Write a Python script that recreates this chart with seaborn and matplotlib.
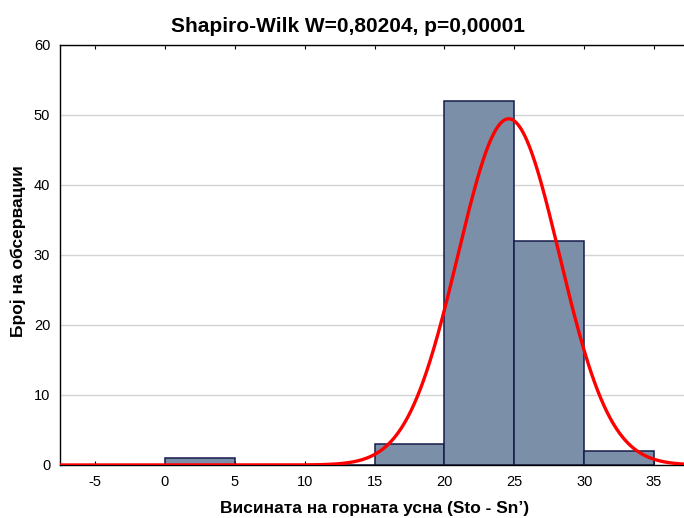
import numpy as np
import pandas as pd
import matplotlib
matplotlib.use("Agg")
import matplotlib.pyplot as plt
import seaborn as sns

# Histogram counts per 5-unit class (left edges)
bin_starts = [0, 5, 10, 15, 20, 25, 30]
counts = [1, 0, 0, 3, 52, 32, 2]
bin_width = 5

# Fitted normal curve parameters
fit_mean = 24.6
fit_sd = 3.63

x_ticks = [-5, 0, 5, 10, 15, 20, 25, 30, 35]
y_ticks = [0, 10, 20, 30, 40, 50, 60]

title = "Shapiro-Wilk W=0,80204, p=0,00001"
x_label = "Висината на горната усна (Sto - Sn’)"
y_label = "Број на обсервации"

sns.set_theme(style="white")
plt.rcParams["font.family"] = ["Liberation Sans", "DejaVu Sans"]

fig = plt.figure(figsize=(6.84, 5.18), dpi=100)
W, H = 684, 518
x0, x1 = -7.5, 37.5
left_px, right_px, top_px, bot_px = 60, 689, 45, 465
ax = fig.add_axes([left_px / W, 1 - bot_px / H, (right_px - left_px) / W,
                   (bot_px - top_px) / H])

df = pd.DataFrame({"mid": [b + bin_width / 2 for b in bin_starts], "n": counts})
edges = bin_starts + [bin_starts[-1] + bin_width]
sns.histplot(data=df, x="mid", weights="n", bins=edges, ax=ax,
             color="#7b8fa9", alpha=1.0, edgecolor="#151b4a", linewidth=1.1,
             zorder=2)

# Normal curve scaled to counts
n_total = sum(counts)
xs = np.linspace(x0, x1, 600)
ys = n_total * bin_width / (fit_sd * np.sqrt(2 * np.pi)) * np.exp(-0.5 * ((xs - fit_mean) / fit_sd) ** 2)
sns.lineplot(x=xs, y=ys, ax=ax, color="#ff0000", linewidth=2.4, zorder=3)

ax.set_xlim(x0, x1)
ax.set_ylim(0, 60)
ax.set_xticks(x_ticks)
ax.set_xticklabels([str(t) for t in x_ticks])
ax.set_yticks(y_ticks)
ax.set_yticklabels([str(t) for t in y_ticks])
ax.tick_params(axis="both", labelsize=10.5, colors="#000000", length=3,
               direction="in", width=0.8, pad=7)
ax.tick_params(axis="x", top=True, bottom=True)
ax.tick_params(axis="y", left=False)
ax.yaxis.grid(True, color="#d3d3d3", linewidth=1.0, zorder=0)
ax.xaxis.grid(False)
ax.set_axisbelow(True)
for s in ["left", "bottom", "top"]:
    ax.spines[s].set_visible(True)
    ax.spines[s].set_color("#000000")
    ax.spines[s].set_linewidth(1.0)
ax.spines["right"].set_visible(False)
ax.set_xlabel("")
ax.set_ylabel("")

fig.text(348 / W, 1 - 32 / H, title, ha="center", va="baseline",
         fontsize=15, fontweight="bold", color="#000000")
fig.text(375 / W, 1 - 508 / H, x_label, ha="center", va="center",
         fontsize=12.5, fontweight="bold", color="#000000")
fig.text(18 / W, 1 - 251 / H, y_label, ha="center", va="center",
         rotation=90, fontsize=12.5, fontweight="bold", color="#000000")

fig.savefig("out.png", dpi=100)
